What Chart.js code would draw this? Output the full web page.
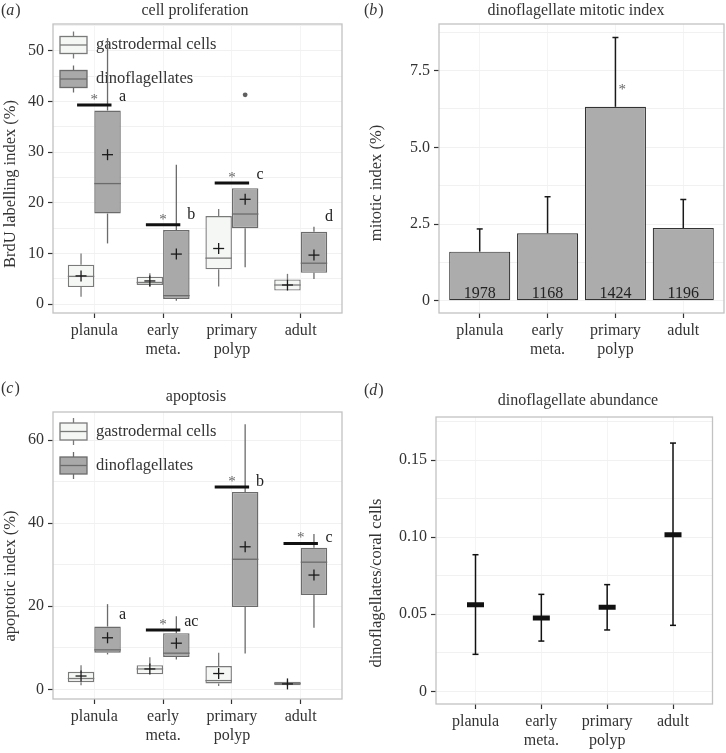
<!DOCTYPE html>
<html>
<head>
<meta charset="utf-8">
<script src="https://cdn.jsdelivr.net/npm/chart.js@4.4.1/dist/chart.umd.min.js"></script>
<style>
  html, body { margin: 0; padding: 0; background: #fff; }
  #fig { position: relative; width: 726px; height: 753px; }
  #fig canvas { position: absolute; }
</style>
</head>
<body>
<div id="fig">
  <canvas id="cA" width="363" height="376" style="left:0;top:0"></canvas>
  <canvas id="cB" width="363" height="376" style="left:363px;top:0"></canvas>
  <canvas id="cC" width="363" height="377" style="left:0;top:376px"></canvas>
  <canvas id="cD" width="363" height="377" style="left:363px;top:376px"></canvas>
</div>
<script>
// ---- data ----
const stages = ['planula', ['early', 'meta.'], ['primary', 'polyp'], 'adult'];
const stageX = [0, 1, 2, 3];

// (a) cell proliferation, boxes are [low, q1, median, q3, high]
const prolifGastro = [[1.5, 3.4, 5.5, 7.8, 10.0], [3.5, 3.8, 4.3, 5.45, 6.1], [3.5, 6.9, 9.1, 17.4, 18.8], [2.7, 2.7, 3.8, 4.9, 6.0]];
const prolifGastroMean = [5.6, 4.6, 11.0, 3.8];
const prolifDino = [[12.0, 17.9, 23.8, 38.2, 52.5], [0.7, 1.05, 1.7, 14.65, 27.5], [7.3, 15.0, 17.8, 22.9, 22.9], [5.0, 6.2, 8.1, 14.3, 15.3]];
const prolifDinoMean = [29.5, 9.9, 20.7, 9.7];
const prolifDinoOutliers = [null, null, 41.3, null];
const prolifSigBar = [39.3, 15.7, 23.9, null];
const prolifLetters = ['a', 'b', 'c', 'd'];
const prolifLetterY = [41.0, 17.6, 25.5, 17.2];

// (b) dinoflagellate mitotic index
const mitoticIndex = [1.60, 2.20, 6.32, 2.37];
const mitoticUpper = [2.34, 3.39, 8.58, 3.30];
const mitoticCounts = ['1978', '1168', '1424', '1196'];
const mitoticStarY = [null, null, 6.96, null];

// (c) apoptosis
const apopGastro = [[1.0, 1.7, 2.6, 4.2, 5.8], [3.6, 3.6, 4.9, 5.8, 7.7], [0.8, 1.4, 2.1, 5.6, 8.8], [0.8, 1.0, 1.4, 1.8, 2.1]];
const apopGastroMean = [3.2, 4.9, 3.8, 1.3];
const apopDino = [[8.4, 8.8, 9.5, 15.1, 20.5], [7.2, 7.8, 8.7, 13.5, 17.6], [8.6, 19.8, 31.3, 47.5, 63.8], [14.8, 22.7, 30.6, 34.1, 37.4]];
const apopDinoMean = [12.4, 11.1, 34.3, 27.5];
const apopDinoOutliers = [null, null, null, null];
const apopSigBar = [null, 14.3, 48.7, 35.1];
const apopLetters = ['a', 'ac', 'b', 'c'];
const apopLetterY = [17.9, 16.3, 50.0, 36.5];

// (d) dinoflagellate abundance
const abundMean = [0.0562, 0.0475, 0.0545, 0.1016];
const abundLow = [0.0240, 0.0326, 0.0398, 0.0428];
const abundHigh = [0.0886, 0.0629, 0.0692, 0.1610];

// ---- shared look ----
const serif = '"Liberation Serif", "DejaVu Serif", serif';
const ink = '#333333';
const gastroFill = '#f4f7f4', gastroLine = '#7a7a7a';
const dinoFill = '#a9a9a9', dinoLine = '#6b6b6b';

function line(ctx, x1, y1, x2, y2) {
  ctx.beginPath(); ctx.moveTo(x1, y1); ctx.lineTo(x2, y2); ctx.stroke();
}

function xScale(axisHeight) {
  return {
    type: 'linear', min: -0.6, max: 3.6, offset: false,
    afterBuildTicks: s => { s.ticks = stageX.map(v => ({ value: v })); },
    afterFit: s => { s.height = axisHeight; },
    ticks: {
      callback: v => stages[v], color: ink, padding: 3, autoSkip: false, maxRotation: 0,
      font: { family: serif, size: 16, lineHeight: 1.2 }
    },
    grid: { offset: false, color: '#f4f4f4', tickLength: 5, tickColor: ink, tickWidth: 1.2 },
    border: { display: false }
  };
}

function yScale(min, max, step, fmt, axisWidth) {
  return {
    type: 'linear', min, max,
    afterBuildTicks: s => {
      const half = step / 2, t = [];
      for (let k = 0; k * half <= max + 1e-9; k++) t.push({ value: +(k * half).toFixed(6) });
      s.ticks = t;
    },
    afterFit: s => { s.width = axisWidth; },
    ticks: {
      callback: (v, i) => i % 2 === 0 ? fmt(v) : '', color: ink, padding: 4, autoSkip: false,
      font: { family: serif, size: 16 }
    },
    grid: {
      color: '#f1f1f1', tickLength: 5, tickWidth: 1.2,
      tickColor: c => c.index % 2 === 0 ? ink : 'rgba(0,0,0,0)'
    },
    border: { display: false }
  };
}

// panel border, letter, title and y axis title
const panelText = {
  id: 'panelText',
  afterDraw(chart, args, o) {
    const { ctx, chartArea: a } = chart;
    ctx.save();
    ctx.strokeStyle = '#c2c2c2'; ctx.lineWidth = 1.3;
    ctx.strokeRect(a.left, a.top, a.right - a.left, a.bottom - a.top);

    ctx.fillStyle = ink; ctx.textBaseline = 'middle'; ctx.textAlign = 'left';
    ctx.font = `16px ${serif}`;
    let x = o.tagX;
    ctx.fillText('(', x, o.tagY); x += ctx.measureText('(').width;
    ctx.font = `italic 16px ${serif}`;
    ctx.fillText(o.tag, x, o.tagY); x += ctx.measureText(o.tag).width + 1;
    ctx.font = `16px ${serif}`;
    ctx.fillText(')', x, o.tagY);

    ctx.textAlign = 'center';
    ctx.fillText(o.title, o.titleX, o.titleY);

    ctx.translate(o.yTitleX, o.yTitleY);
    ctx.rotate(-Math.PI / 2);
    ctx.font = `16.5px ${serif}`;
    ctx.fillText(o.yTitle, 0, 0);
    ctx.restore();
  }
};

// whiskers, medians, means, legend keys and significance marks for the box panels
const boxPlot = {
  id: 'boxPlot',
  beforeDatasetsDraw(chart, args, o) {
    const { ctx } = chart, y = chart.scales.y;
    ctx.save();
    chart.data.datasets.forEach((ds, d) => {
      // legend key
      const cy = o.legendY[d], x0 = o.legendX, w = 27, h = 17;
      ctx.strokeStyle = ds.borderColor; ctx.lineWidth = 1.3;
      line(ctx, x0 + w / 2, cy - h / 2 - 5, x0 + w / 2, cy + h / 2 + 5);
      ctx.fillStyle = ds.backgroundColor;
      ctx.fillRect(x0, cy - h / 2, w, h);
      ctx.strokeRect(x0, cy - h / 2, w, h);
      line(ctx, x0, cy, x0 + w, cy);
      ctx.fillStyle = ink; ctx.font = `16.5px ${serif}`;
      ctx.textAlign = 'left'; ctx.textBaseline = 'middle';
      ctx.fillText(ds.label, x0 + 36, cy);
    });
    chart.data.datasets.forEach((ds, d) => {
      ctx.strokeStyle = ds.borderColor; ctx.lineWidth = 1.3;
      chart.getDatasetMeta(d).data.forEach((bar, i) => {
        const s = ds.stats[i];
        line(ctx, bar.x, y.getPixelForValue(s[4]), bar.x, y.getPixelForValue(s[3]));
        line(ctx, bar.x, y.getPixelForValue(s[1]), bar.x, y.getPixelForValue(s[0]));
      });
    });
    ctx.restore();
  },
  afterDatasetsDraw(chart, args, o) {
    const { ctx } = chart, x = chart.scales.x, y = chart.scales.y;
    ctx.save();
    chart.data.datasets.forEach((ds, d) => {
      chart.getDatasetMeta(d).data.forEach((bar, i) => {
        const s = ds.stats[i];
        // median
        ctx.strokeStyle = ds.borderColor; ctx.lineWidth = 1.3;
        const ym = y.getPixelForValue(s[2]);
        line(ctx, bar.x - bar.width / 2, ym, bar.x + bar.width / 2, ym);
        // mean cross
        const yc = y.getPixelForValue(ds.means[i]);
        ctx.strokeStyle = '#1a1a1a'; ctx.lineWidth = 1.3;
        line(ctx, bar.x - 5.5, yc, bar.x + 5.5, yc);
        line(ctx, bar.x, yc - 5.5, bar.x, yc + 5.5);
        // outliers
        if (ds.outliers && ds.outliers[i] != null) {
          ctx.fillStyle = '#5f5f5f';
          ctx.beginPath(); ctx.arc(bar.x, y.getPixelForValue(ds.outliers[i]), 2.4, 0, Math.PI * 2); ctx.fill();
        }
      });
    });
    stageX.forEach((sx, i) => {
      if (o.sigBar[i] != null) {
        const yb = y.getPixelForValue(o.sigBar[i]);
        ctx.strokeStyle = '#111'; ctx.lineWidth = 3;
        line(ctx, x.getPixelForValue(sx - 0.25), yb, x.getPixelForValue(sx + 0.25), yb);
        ctx.fillStyle = '#666'; ctx.font = `15px ${serif}`;
        ctx.textAlign = 'center'; ctx.textBaseline = 'alphabetic';
        ctx.fillText('*', x.getPixelForValue(sx), yb - 1);
      }
      ctx.fillStyle = '#222'; ctx.font = `16px ${serif}`;
      ctx.textAlign = 'center'; ctx.textBaseline = 'middle';
      ctx.fillText(o.letters[i], x.getPixelForValue(sx + 0.41), y.getPixelForValue(o.letterY[i]));
    });
    ctx.restore();
  }
};

// error bars, counts and asterisk for the mitotic index bars
const mitoticMarks = {
  id: 'mitoticMarks',
  afterDatasetsDraw(chart) {
    const { ctx } = chart, x = chart.scales.x, y = chart.scales.y;
    const ds = chart.data.datasets[0];
    ctx.save();
    chart.getDatasetMeta(0).data.forEach((bar, i) => {
      const yTop = y.getPixelForValue(ds.data[i].y), yHi = y.getPixelForValue(ds.upper[i]);
      ctx.strokeStyle = '#1a1a1a'; ctx.lineWidth = 1.5;
      line(ctx, bar.x, yTop, bar.x, yHi);
      line(ctx, bar.x - 3, yHi, bar.x + 3, yHi);
      ctx.fillStyle = '#222'; ctx.font = `16px ${serif}`;
      ctx.textAlign = 'center'; ctx.textBaseline = 'alphabetic';
      ctx.fillText(ds.counts[i], bar.x, y.getPixelForValue(0) - 3);
      if (ds.stars[i] != null) {
        ctx.fillStyle = '#666'; ctx.font = `15px ${serif}`;
        ctx.fillText('*', x.getPixelForValue(stageX[i] + 0.1), y.getPixelForValue(ds.stars[i]) + 7);
      }
    });
    ctx.restore();
  }
};

// error bars for the abundance panel
const abundanceBars = {
  id: 'abundanceBars',
  beforeDatasetsDraw(chart) {
    const { ctx } = chart, y = chart.scales.y;
    const ds = chart.data.datasets[0];
    ctx.save();
    ctx.strokeStyle = '#111'; ctx.lineWidth = 1.5;
    chart.getDatasetMeta(0).data.forEach((pt, i) => {
      const yl = y.getPixelForValue(ds.low[i]), yh = y.getPixelForValue(ds.high[i]);
      line(ctx, pt.x, yl, pt.x, yh);
      line(ctx, pt.x - 3, yl, pt.x + 3, yl);
      line(ctx, pt.x - 3, yh, pt.x + 3, yh);
    });
    ctx.restore();
  }
};

function pad(W, H, L, T, R, B) {
  return { padding: { left: 0, top: T, right: W - R, bottom: 0 } };
}

function boxDatasets(gStats, gMean, dStats, dMean, dOut) {
  const common = { borderWidth: 1.4, borderSkipped: false, categoryPercentage: 0.77, barPercentage: 1 };
  return [
    Object.assign({ label: 'gastrodermal cells', backgroundColor: gastroFill, borderColor: gastroLine,
      data: stageX.map((x, i) => ({ x, y: [gStats[i][1], gStats[i][3]] })), stats: gStats, means: gMean }, common),
    Object.assign({ label: 'dinoflagellates', backgroundColor: dinoFill, borderColor: dinoLine,
      data: stageX.map((x, i) => ({ x, y: [dStats[i][1], dStats[i][3]] })), stats: dStats, means: dMean, outliers: dOut }, common)
  ];
}

const baseOpts = { responsive: false, animation: false, events: [] };
const noLegend = { legend: { display: false }, tooltip: { enabled: false } };
const plain = v => String(v);

// (a)
new Chart(document.getElementById('cA'), {
  type: 'bar',
  data: { datasets: boxDatasets(prolifGastro, prolifGastroMean, prolifDino, prolifDinoMean, prolifDinoOutliers) },
  options: Object.assign({}, baseOpts, {
    layout: pad(363, 376, 53, 24, 342, 313),
    scales: { x: xScale(376 - 313), y: yScale(-1.72, 55.27, 10, plain, 53) },
    plugins: Object.assign({}, noLegend, {
      panelText: { tag: 'a', tagX: 1, tagY: 11, title: 'cell proliferation', titleX: 195, titleY: 11,
        yTitle: 'BrdU labelling index (%)', yTitleX: 11, yTitleY: 184 },
      boxPlot: { legendX: 60, legendY: [45, 79], sigBar: prolifSigBar, letters: prolifLetters, letterY: prolifLetterY }
    })
  }),
  plugins: [boxPlot, panelText]
});

// (b)
new Chart(document.getElementById('cB'), {
  type: 'bar',
  data: { datasets: [{
    data: stageX.map((x, i) => ({ x, y: mitoticIndex[i] })), upper: mitoticUpper, counts: mitoticCounts, stars: mitoticStarY,
    backgroundColor: '#acacac', borderColor: '#333', borderWidth: 1.2, borderSkipped: false,
    categoryPercentage: 0.9, barPercentage: 1
  }] },
  options: Object.assign({}, baseOpts, {
    layout: pad(363, 376, 76, 24, 361, 313),
    scales: { x: xScale(376 - 313), y: yScale(-0.40, 9.02, 2.5, v => v === 0 ? '0' : v.toFixed(1), 76) },
    plugins: Object.assign({}, noLegend, {
      panelText: { tag: 'b', tagX: 1, tagY: 11, title: 'dinoflagellate mitotic index', titleX: 213, titleY: 11,
        yTitle: 'mitotic index (%)', yTitleX: 14, yTitleY: 183 }
    })
  }),
  plugins: [mitoticMarks, panelText]
});

// (c)
new Chart(document.getElementById('cC'), {
  type: 'bar',
  data: { datasets: boxDatasets(apopGastro, apopGastroMean, apopDino, apopDinoMean, apopDinoOutliers) },
  options: Object.assign({}, baseOpts, {
    layout: pad(363, 377, 53, 36, 342, 323),
    scales: { x: xScale(377 - 323), y: yScale(-2.33, 66.74, 20, plain, 53) },
    plugins: Object.assign({}, noLegend, {
      panelText: { tag: 'c', tagX: 1, tagY: 13, title: 'apoptosis', titleX: 196, titleY: 21,
        yTitle: 'apoptotic index (%)', yTitleX: 11, yTitleY: 200 },
      boxPlot: { legendX: 60, legendY: [55.5, 89.5], sigBar: apopSigBar, letters: apopLetters, letterY: apopLetterY }
    })
  }),
  plugins: [boxPlot, panelText]
});

// (d)
new Chart(document.getElementById('cD'), {
  type: 'scatter',
  data: { datasets: [{
    data: stageX.map((x, i) => ({ x, y: abundMean[i] })), low: abundLow, high: abundHigh,
    pointStyle: 'line', pointRadius: 8.5, borderWidth: 5, borderColor: '#111', backgroundColor: '#111'
  }] },
  options: Object.assign({}, baseOpts, {
    layout: pad(363, 377, 73, 41, 361, 328),
    scales: { x: xScale(377 - 328), y: yScale(-0.0082, 0.1779, 0.05, v => v === 0 ? '0' : v.toFixed(2), 73) },
    plugins: Object.assign({}, noLegend, {
      panelText: { tag: 'd', tagX: 1, tagY: 15, title: 'dinoflagellate abundance', titleX: 215, titleY: 25,
        yTitle: 'dinoflagellates/coral cells', yTitleX: 14, yTitleY: 207 }
    })
  }),
  plugins: [abundanceBars, panelText]
});
</script>
</body>
</html>
